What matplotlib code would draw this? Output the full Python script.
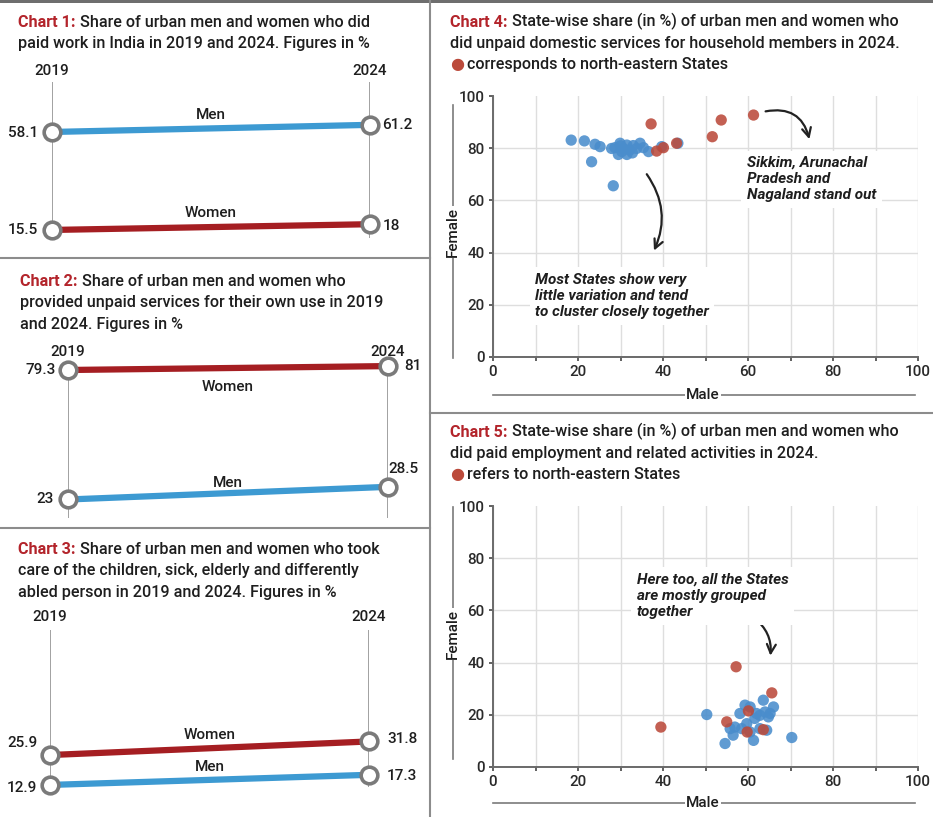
import numpy as np
import matplotlib
matplotlib.use('Agg')
import matplotlib.pyplot as plt

plt.rcParams['font.family'] = ['Roboto', 'DejaVu Sans']

W, H = 933, 817

# ---- data ----
years = [2019, 2024]

# Chart 1: paid work
c1_men = [58.1, 61.2]
c1_women = [15.5, 18]
# Chart 2: unpaid services for own use
c2_men = [23, 28.5]
c2_women = [79.3, 81]
# Chart 3: care of children, sick, elderly, differently abled
c3_men = [12.9, 17.3]
c3_women = [25.9, 31.8]

# Chart 4: unpaid domestic services (male %, female %)
c4_other_male = [18.4, 21.5, 24.0, 25.2, 23.2, 28.3, 27.9, 28.7, 29.9, 30.3, 29.5, 30.7, 31.5,
                 31.5, 32.2, 33.0, 33.8, 34.6, 35.4, 36.6, 39.7, 43.5, 30.0, 32.8]
c4_other_female = [83.1, 82.8, 81.5, 80.6, 74.8, 65.6, 79.9, 80.2, 81.9, 78.7, 77.6, 79.9, 81.2,
                   77.6, 79.3, 81.0, 79.9, 81.9, 80.2, 78.7, 80.6, 81.9, 80.9, 78.2]
c4_ne_male = [37.2, 38.5, 40.1, 43.2, 51.6, 53.7, 61.3]
c4_ne_female = [89.3, 78.9, 80.2, 81.9, 84.4, 90.8, 92.7]

# Chart 5: paid employment (male %, female %)
c5_other_male = [50.3, 70.3, 54.6, 56.5, 56.9, 58.1, 59.3, 60.5, 59.7, 60.5, 61.3, 58.5, 62.0,
                 62.8, 63.6, 64.0, 64.8, 66.0, 64.4, 62.8, 65.2, 55.8, 61.6]
c5_other_female = [20.1, 11.3, 9.0, 12.2, 15.3, 20.5, 23.7, 23.0, 16.6, 13.4, 10.2, 14.7, 20.5,
                   14.7, 25.6, 21.1, 19.2, 23.0, 14.1, 19.8, 20.5, 14.7, 18.6]
c5_ne_male = [39.5, 55.0, 57.2, 60.1, 65.6, 59.8, 63.6]
c5_ne_female = [15.3, 17.3, 38.4, 21.5, 28.4, 13.4, 14.3]

# ---- style ----
BLUE = '#3d9ad2'
RED = '#a51e22'
DOT_BLUE = '#4a8dcc'
DOT_RED = '#bb4a3b'
HEAD_RED = '#b3242b'
TXT = '#1e1e1e'
FS_TITLE = 11.6
TW = 'medium'

fig = plt.figure(figsize=(W / 100, H / 100), dpi=100)
bg = fig.add_axes([0, 0, 1, 1])
bg.set_xlim(0, W)
bg.set_ylim(H, 0)
bg.axis('off')


def px_axes(x0, y0, x1, y1):
    return fig.add_axes([x0 / W, 1 - y1 / H, (x1 - x0) / W, (y1 - y0) / H])


# panel separators
sep = dict(color='#8c8c8c', lw=1.5)
bg.plot([430, 430], [0, H], **sep)
bg.plot([0, 430], [258, 258], **sep)
bg.plot([0, 430], [528, 528], **sep)
bg.plot([430, W], [413, 413], **sep)
bg.axhspan(0, 3, color='#6e6e6e', lw=0)


def title(x, y, head, lines, legend=None):
    t = bg.text(x, y, head, color=HEAD_RED, fontweight='bold', fontsize=FS_TITLE,
                va='center', ha='left')
    bg.annotate(lines[0], xy=(1, 0), xycoords=t, xytext=(3, 0), textcoords='offset points',
                va='bottom', ha='left', fontsize=FS_TITLE, color=TXT, fontweight=TW)
    for i, ln in enumerate(lines[1:], start=1):
        bg.text(x, y + 21 * i, ln, fontsize=FS_TITLE, color=TXT, va='center', ha='left',
                fontweight=TW)
    if legend:
        yl = y + 21 * len(lines)
        d = bg.text(x, yl, '\u25CF', color=DOT_RED, fontsize=FS_TITLE, va='center',
                    ha='left', family='DejaVu Sans')
        bg.annotate(legend, xy=(1, 0), xycoords=d, xytext=(2, 0), textcoords='offset points',
                    va='bottom', ha='left', fontsize=FS_TITLE, color=TXT, fontweight=TW)


def slope(box, ylo, men, women, men_lab, women_lab, lab_offsets, year_off):
    x0, y0, x1, y1 = box
    ax = px_axes(x0, y0, x1, y1)
    scale = 2.3  # px per percentage point
    ax.set_xlim(years[0], years[1])
    ax.set_ylim(ylo, ylo + (y1 - y0) / scale)
    ax.axis('off')
    for yr in years:
        ax.axvline(yr, color='#9a9a9a', lw=1.3, zorder=1)
        ax.annotate(str(yr), xy=(yr, 1), xycoords=('data', 'axes fraction'),
                    xytext=(0, year_off), textcoords='offset points', ha='center', va='bottom',
                    fontsize=11, color=TXT, fontweight=TW)
    ax.plot(years, women, color=RED, lw=4.5, solid_capstyle='butt', zorder=2, clip_on=False)
    ax.plot(years, men, color=BLUE, lw=4.5, solid_capstyle='butt', zorder=2, clip_on=False)
    for vals in (men, women):
        ax.plot(years, vals, ls='none', marker='o', ms=12, mfc='white', mec='#7a7a7a',
                mew=2.6, zorder=3, clip_on=False)
    # value labels
    for key, vals in (('men', men), ('women', women)):
        for i, yr in enumerate(years):
            dx, dy = lab_offsets[key][i]
            ax.annotate(f'{vals[i]:g}', xy=(yr, vals[i]), xytext=(dx, dy),
                        textcoords='offset points', ha='right' if i == 0 else 'left',
                        va='center', fontsize=11, color=TXT, fontweight=TW,
                        annotation_clip=False)
    mid = (years[0] + years[1]) / 2
    ax.annotate('Men', xy=(mid, np.mean(men)), xytext=(0, men_lab), textcoords='offset points',
                ha='center', va='center', fontsize=11, color=TXT, fontweight=TW,
                annotation_clip=False)
    ax.annotate('Women', xy=(mid, np.mean(women)), xytext=(0, women_lab),
                textcoords='offset points', ha='center', va='center', fontsize=11, color=TXT,
                fontweight=TW, annotation_clip=False)
    return ax


# Chart 1
title(18, 22, 'Chart 1:', ['Share of urban men and women who did',
                           'paid work in India in 2019 and 2024. Figures in %'])
slope((52, 82, 370, 238), 12.0, c1_men, c1_women, 10, 10,
      {'men': [(-10, -1), (9, 0)], 'women': [(-10, 0), (9, -1)]}, 3)

# Chart 2
title(20, 282, 'Chart 2:', ['Share of urban men and women who',
                            'provided unpaid services for their own use in 2019',
                            'and 2024. Figures in %'])
slope((68, 370, 388, 518), 14.95, c2_men, c2_women, 7, -14,
      {'men': [(-10, 0), (0, 13)], 'women': [(-9, 0), (12, 0)]}, 8)

# Chart 3
title(18, 550, 'Chart 3:', ['Share of urban men and women who took',
                            'care of the children, sick, elderly and differently',
                            'abled person in 2019 and 2024. Figures in %'])
slope((50, 630, 369, 787), 12.0, c3_men, c3_women, 9.5, 9.5,
      {'men': [(-9, -2), (13, -1)], 'women': [(-9, 9), (13, 2)]}, 4)


def scatter_panel(box, om, of, nm, nf, male_y, female_x, female_y, fline):
    ax = px_axes(*box)
    ax.set_xlim(0, 100)
    ax.set_ylim(0, 100)
    ax.set_xticks(range(0, 101, 20))
    ax.set_xticks(range(10, 100, 20), minor=True)
    ax.set_yticks(range(0, 101, 20))
    ax.grid(True, which='both', axis='x', color='#dedede', lw=1)
    ax.grid(True, which='major', axis='y', color='#dedede', lw=1)
    ax.get_ygridlines()[-1].set_visible(False)
    ax.set_axisbelow(True)
    for sp in ('top', 'right'):
        ax.spines[sp].set_visible(False)
    for sp in ('left', 'bottom'):
        ax.spines[sp].set_color('#6a6a6a')
        ax.spines[sp].set_linewidth(1.4)
    ax.tick_params(which='both', length=3, width=1.3, color='#555', labelsize=11,
                   labelcolor='#2a2a2a', pad=3)
    for lab in ax.get_xticklabels() + ax.get_yticklabels():
        lab.set_fontweight(TW)
    ax.scatter(om, of, s=66, color=DOT_BLUE, alpha=0.88, edgecolors='none', zorder=3)
    ax.scatter(nm, nf, s=66, color=DOT_RED, alpha=0.88, edgecolors='none', zorder=3)
    # axis titles with rules
    ax.plot([0, 0.993], [male_y, male_y], transform=ax.transAxes, clip_on=False,
            color='#7a7a7a', lw=1.2)
    ax.text(0.494, male_y, 'Male', transform=ax.transAxes, ha='center', va='center',
            fontsize=11, color=TXT, fontweight=TW, bbox=dict(fc='white', ec='none', pad=1))
    ax.plot([female_x, female_x], fline, transform=ax.transAxes, clip_on=False,
            color='#7a7a7a', lw=1.2)
    ax.text(female_x, female_y, 'Female', transform=ax.transAxes, ha='center', va='center',
            rotation=90, fontsize=11, color=TXT, fontweight=TW,
            bbox=dict(fc='white', ec='none', pad=1))
    return ax


note = dict(fontsize=11, fontstyle='italic', fontweight='bold', color=TXT, ha='left',
            va='top', bbox=dict(fc='white', ec='none', pad=4), zorder=4)
arrow = dict(arrowstyle='->', color='#222', lw=1.6, mutation_scale=16)

# Chart 4
title(450, 22, 'Chart 4:', ['State-wise share (in %) of urban men and women who',
                            'did unpaid domestic services for household members in 2024.'],
      legend='corresponds to north-eastern States')
ax4 = scatter_panel((493, 96, 918, 357), c4_other_male, c4_other_female, c4_ne_male,
                    c4_ne_female, -0.146, -0.094, 0.479, [-0.004, 0.966])
ax4.text(9.9, 32.2, 'Most States show very\nlittle variation and tend\nto cluster closely together',
         **note)
ax4.text(59.7, 77.0, 'Sikkim, Arunachal\nPradesh and\nNagaland stand out', **note)
ax4.annotate('', xy=(37.6, 39.8), xytext=(35.8, 70.9),
             arrowprops=dict(connectionstyle='arc3,rad=-0.3', **arrow))
ax4.annotate('', xy=(74.6, 82.4), xytext=(63.5, 93.9),
             arrowprops=dict(connectionstyle='arc3,rad=-0.5', **arrow))

# Chart 5
title(450, 432, 'Chart 5:', ['State-wise share (in %) of urban men and women who',
                             'did paid employment and related activities in 2024.'],
      legend='refers to north-eastern States')
ax5 = scatter_panel((493, 506, 918, 767), c5_other_male, c5_other_female, c5_ne_male,
                    c5_ne_female, -0.138, -0.094, 0.51, [0.03, 0.995])
ax5.text(33.8, 74.4, 'Here too, all the States\nare mostly grouped\ntogether', **note)
ax5.annotate('', xy=(65.2, 41.6), xytext=(60.9, 57.8),
             arrowprops=dict(connectionstyle='arc3,rad=-0.3', **arrow))

fig.savefig('out.png', dpi=100, facecolor='white')
